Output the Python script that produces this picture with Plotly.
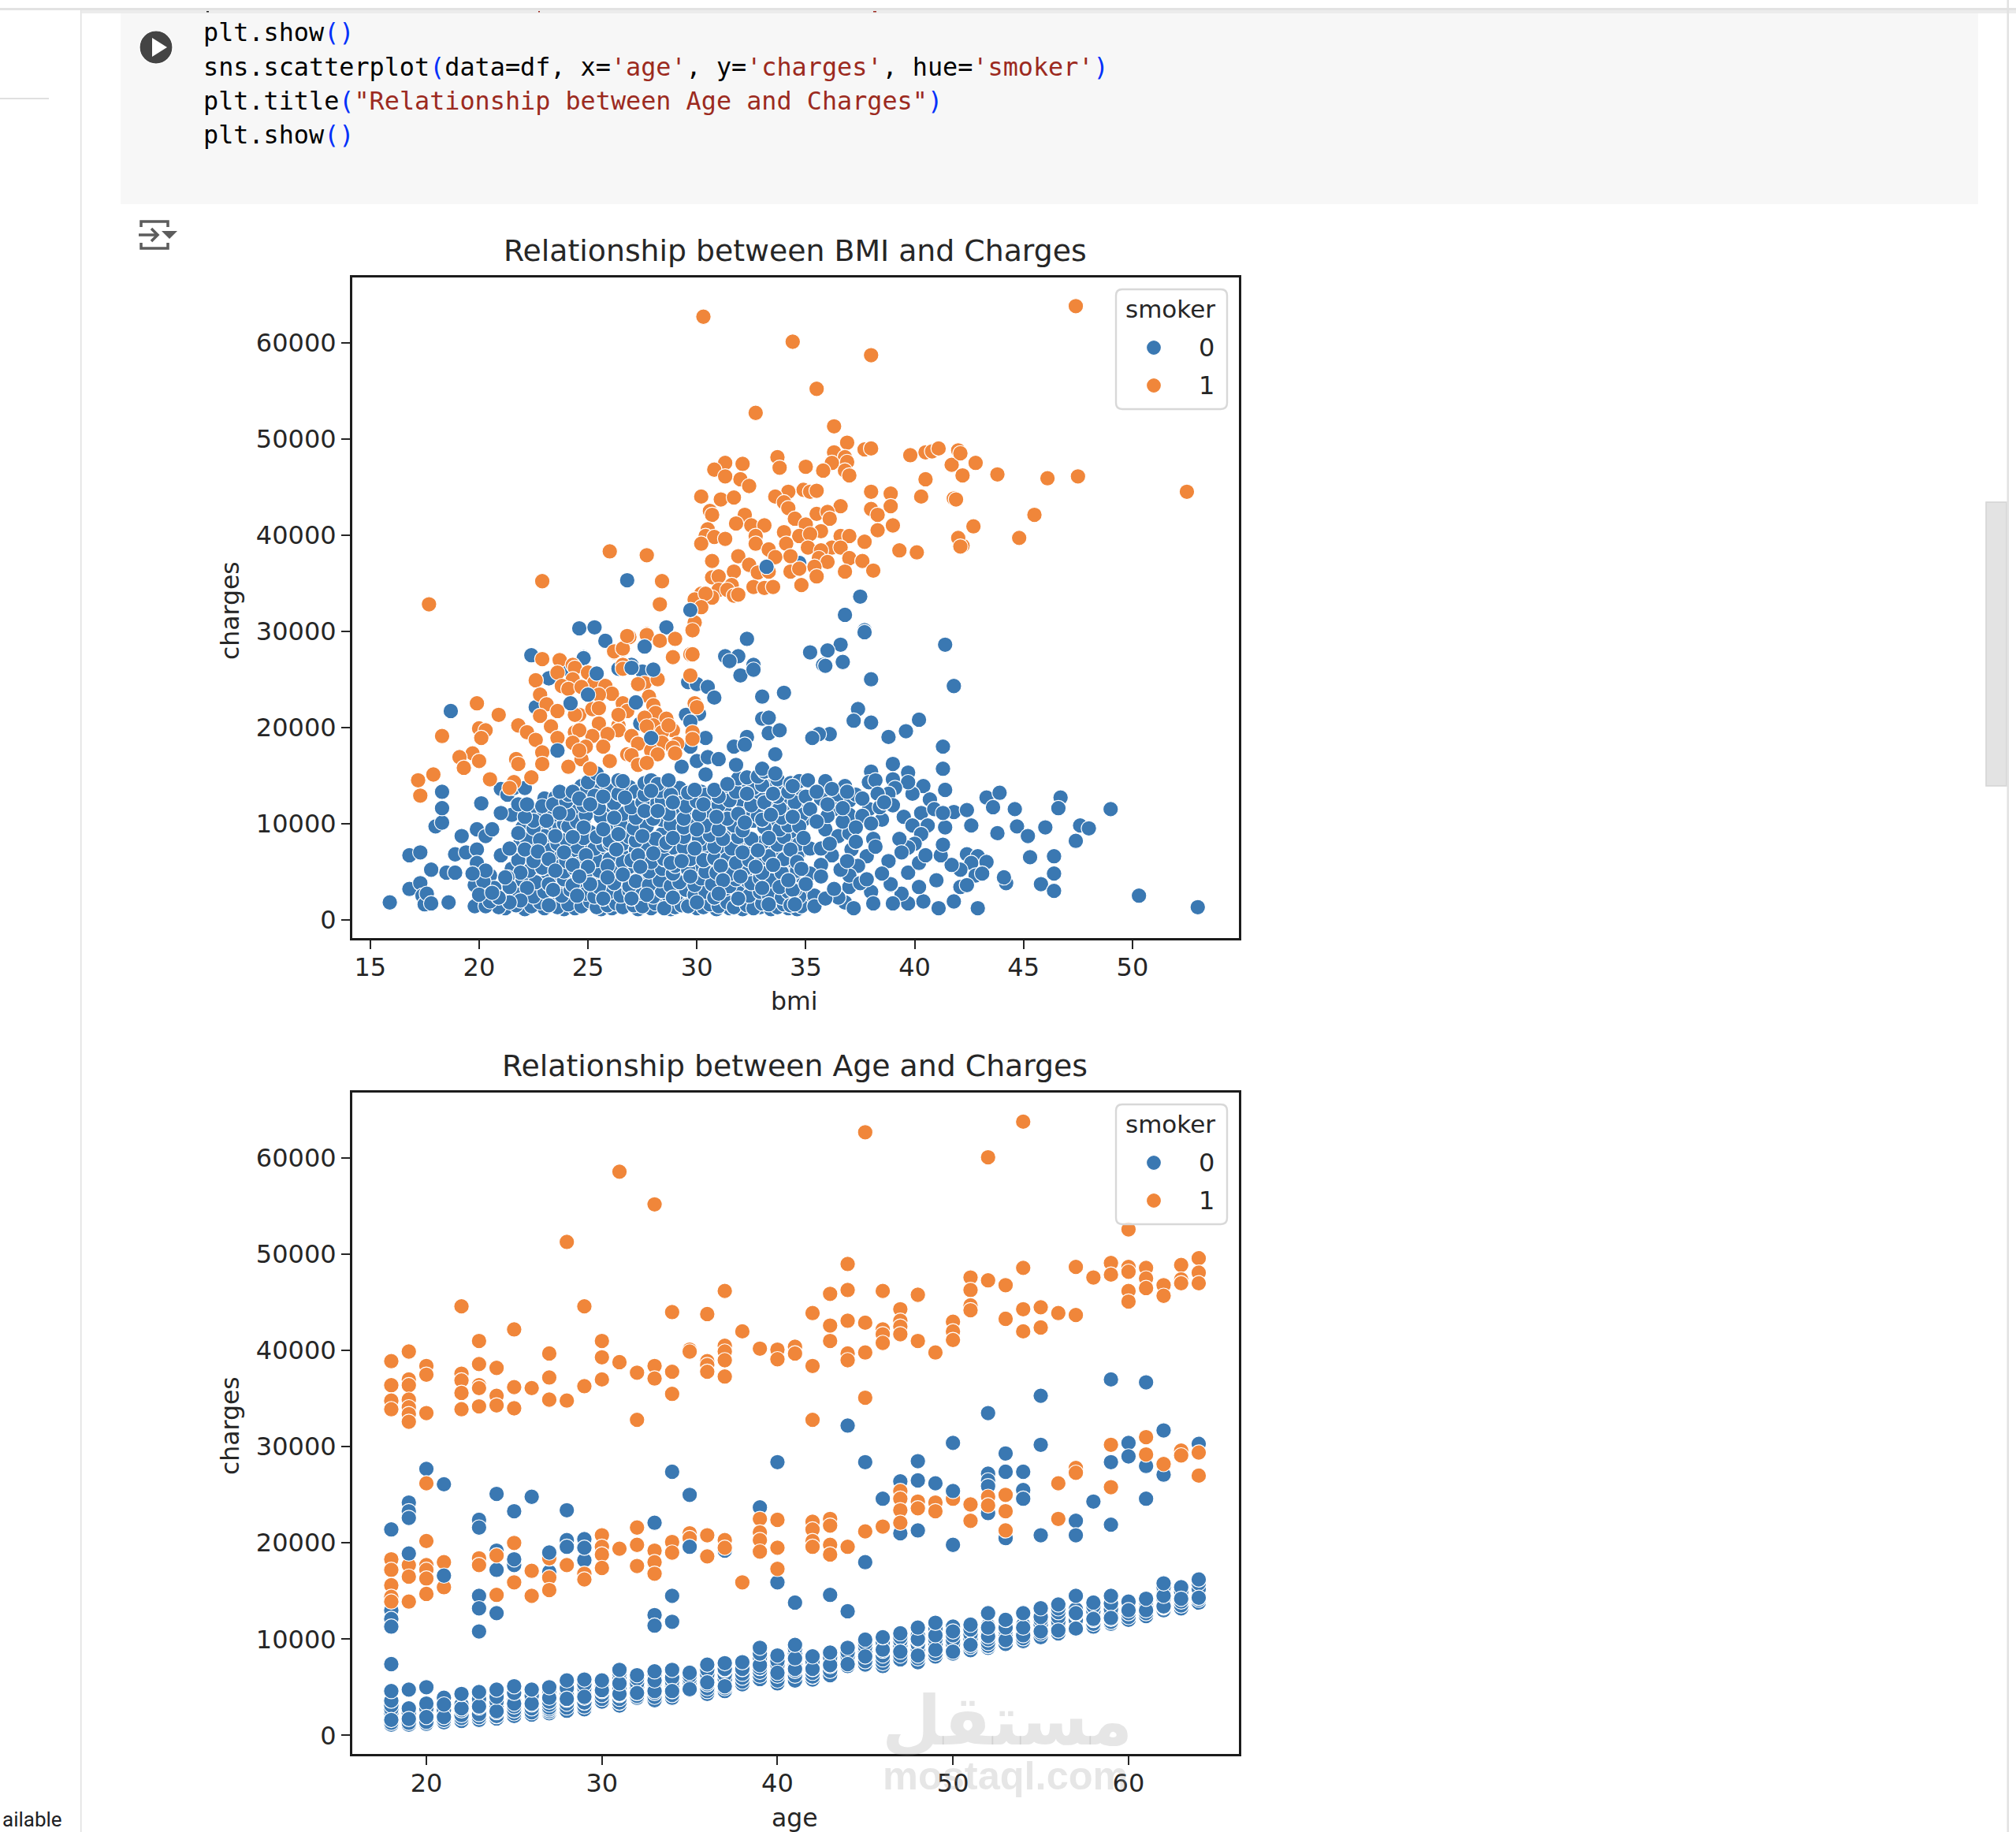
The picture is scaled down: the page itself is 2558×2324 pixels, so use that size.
import plotly.graph_objects as go

# ---- chart data: charges are in thousands, converted when the traces are built ----
bmi_ticks = [15, 20, 25, 30, 35, 40, 45, 50]
age_ticks = [20, 30, 40, 50, 60]
charge_ticks = [0, 10000, 20000, 30000, 40000, 50000, 60000]

# Smokers, (bmi, charges)
smoker_bmi_high = [
(30.3,62.7),(34.4,60.1),(38.0,58.7),(35.5,55.2),(32.7,52.7),(36.3,51.3),(36.9,49.6),(37.7,48.9),(38.0,49.0),
(36.3,48.6),(39.8,48.3),(40.5,48.6),(40.8,48.7),(41.1,49.0),(42.0,48.8),(41.7,47.3),(36.8,48.1),(36.9,47.6),
(36.2,47.5),(36.8,46.7),(37.0,46.2),(35.8,46.7),(35.0,47.1),(33.7,48.1),(33.8,47.0),(32.1,47.4),(31.3,47.5),
(30.8,46.8),(31.3,46.1),(32.0,45.8),(32.4,45.1),(40.5,45.8),(42.2,46.2),(34.9,44.7),(35.2,44.5),(35.5,44.6),
(34.2,44.5),(33.6,44.0),(38.0,44.5),(38.9,44.3),(30.2,44.0),(31.1,43.7),(31.7,43.9),(40.3,44.0),(41.8,43.8),
(34.0,43.4),(34.2,42.8),(38.9,43.0),(36.6,43.0),(38.0,42.7),(38.3,42.1),(30.6,42.5),(30.7,42.1),(32.2,42.1),
(35.5,42.2),(36.0,42.4),(36.1,41.7),(34.5,41.7),(35.0,41.1),(31.8,41.2),(32.5,41.0),(33.1,41.0),(39.0,41.0),
(30.5,40.6),(34.0,40.3),(35.7,40.4),(34.7,39.9),(35.2,40.1),(38.3,40.5),(30.4,39.9),(30.8,39.8),(31.3,39.6),
(32.7,39.9),(36.6,39.9),(37.0,39.9),(42.0,39.7),(42.2,38.9),(37.7,39.3),(30.2,39.1),(32.7,39.1),(34.1,39.1),
(35.1,38.7),(33.3,38.5),(36.2,38.7),(36.6,38.7),(35.7,38.4),(39.3,38.4),(40.1,38.2),(34.3,37.8),(33.6,37.7),
(31.9,37.8),(35.6,37.6),(37.0,37.6),(30.7,37.3),(36.0,37.2),(37.6,37.3),(32.4,36.9),(35.4,36.7),(31.7,36.2),
(32.8,36.1),(33.3,36.2),(34.3,36.2),(34.7,36.5),(36.8,36.2),(38.1,36.3),(30.7,35.6),(31.0,35.7),(35.5,35.7),
(34.8,34.8),(31.6,34.8),(32.6,34.6),(33.1,34.5),(33.5,34.6),(31.0,34.3),(31.4,34.3),(31.7,33.7),(31.9,33.8),
(30.2,33.9),(29.9,33.3),(30.7,33.5),(30.4,33.9),(30.2,32.5),(29.9,30.9),(29.8,30.1),(26.0,38.3),(27.7,37.9),
(22.9,35.2),(28.4,35.2),(17.7,32.8),(28.3,32.8),(47.4,63.8),(52.5,44.5),(47.5,46.1),(46.1,45.9),(45.5,42.1),
(44.8,39.7),(43.8,46.3),(42.8,47.5),(42.1,48.5),(41.9,43.7),(42.7,40.9),(42.0,39.7),(42.1,38.8),
]
smoker_bmi_low = [
(26.9,29.4),(27.7,29.7),(29.0,29.2),(28.3,29.0),(26.6,28.1),(26.2,27.8),(28.9,27.3),(29.7,27.6),(22.9,27.1),
(23.7,27.0),(24.3,26.5),(26.6,26.5),(19.9,22.5),(20.9,21.3),(18.3,19.1),(20.0,19.9),(20.3,19.7),(20.1,18.9),
(21.8,20.2),(22.2,19.5),(22.6,18.7),(23.3,20.1),(23.6,18.9),(22.9,17.4),(19.7,17.3),(19.1,16.9),(20.0,16.5),
(19.3,15.8),(21.7,16.7),(21.8,16.2),(22.9,16.2),(17.9,15.1),(17.2,14.5),(17.3,12.9),(20.5,14.6),(21.6,14.3),
(21.4,13.7),(22.4,14.8),(24.1,15.9),(24.7,16.7),(25.1,15.7),(26.0,16.5),(23.6,25.7),(24.4,26.2),(22.6,24.9),
(24.3,25.0),(25.0,25.7),(25.3,24.7),(23.8,24.3),(24.1,24.0),(24.7,24.2),(25.8,24.3),(26.1,23.5),(25.5,23.4),
(22.8,23.4),(23.1,22.4),(23.6,21.7),(22.8,21.2),(24.6,21.3),(25.2,21.9),(24.4,21.3),(25.5,22.0),(25.5,20.4),
(26.4,20.2),(26.4,19.7),(25.9,19.3),(25.2,19.1),(24.4,19.5),(24.6,19.7),(24.3,18.4),(24.9,18.0),(24.6,17.6),
(25.7,18.0),(26.6,22.5),(26.8,21.7),(26.4,21.3),(26.2,27.9),(26.6,28.2),(26.8,29.5),(27.7,29.6),(28.3,29.0),
(29.0,29.2),(29.8,27.6),(29.8,30.1),(26.6,26.1),(27.6,24.6),(27.3,24.5),(28.2,25.0),(29.7,25.4),(27.8,23.2),
(28.0,22.3),(29.9,22.5),(30.0,22.1),(28.1,21.5),(27.6,21.0),(28.6,20.9),(28.0,20.2),(27.7,20.1),(28.9,19.7),
(28.4,19.5),(28.7,20.2),(27.0,19.1),(29.8,19.5),(29.8,18.8),(27.3,18.3),(28.4,18.4),(29.1,18.3),(28.9,17.9),
(27.9,17.6),(29.0,17.3),(26.8,17.2),(27.0,17.1),(28.2,17.2),(27.3,16.1),(27.7,16.3),
]

# Non-smokers above the dense block and along its right-hand tail
nonsmoker_bmi_sparse = [
(34.7,37.1),(37.5,33.6),(36.8,31.7),(37.7,30.1),(28.6,30.4),(24.6,30.3),(25.3,30.4),(25.8,29.0),(27.6,28.4),
(32.3,29.2),(36.6,28.6),(36.0,28.0),(35.2,27.8),(41.4,28.6),(22.4,27.5),(24.8,27.3),(31.3,27.4),(31.9,27.4),
(35.8,26.5),(36.7,26.8),(32.6,26.5),(27.0,26.5),(24.8,27.2),(31.5,26.9),(32.0,25.4),(32.6,26.0),(23.2,25.1),
(24.0,26.1),(26.4,26.1),(27.5,25.8),(29.6,24.7),(30.0,24.5),(30.5,24.2),(30.8,23.1),(33.0,23.2),(34.0,23.6),
(22.6,22.1),(18.7,21.7),(29.5,21.3),(30.1,21.4),(29.7,20.6),(33.0,20.9),(33.3,21.0),(27.4,20.4),(33.3,19.4),
(33.8,19.7),(30.4,18.9),(29.7,18.0),(32.3,19.0),(31.7,18.0),(32.2,18.2),(33.6,17.2),(23.6,17.6),(30.0,16.5),
(30.5,16.9),(31.0,16.7),(31.8,16.1),(29.3,15.9),(33.0,15.7),(30.4,15.1),(33.6,15.2),(37.7,29.9),(35.9,26.4),
(38.0,25.0),(41.8,24.3),(37.4,21.9),(37.2,20.7),(38.0,20.5),(40.2,20.8),(39.6,19.6),(38.8,19.0),(36.1,19.3),
(35.6,19.3),(35.3,18.9),(41.3,18.0),(41.3,15.7),(39.0,16.2),(41.4,13.5),(39.7,15.3),(40.4,13.9),(39.9,13.1),
(40.7,12.5),(38.0,15.4),(37.9,14.3),(38.2,14.5),(39.0,14.6),(39.7,14.3),(39.1,13.7),(38.8,13.1),(39.0,11.9),
(38.3,13.1),(36.8,13.9),(35.9,14.4),(35.1,14.5),(37.0,12.4),(35.0,12.8),(35.7,12.6),(36.4,12.6),(37.3,13.0),
(37.9,11.5),(38.5,10.4),(36.3,11.5),(35.2,11.5),(37.0,10.9),(40.3,11.1),(39.5,10.7),(39.9,9.8),(40.6,9.8),
(41.4,9.6),(41.8,11.2),(42.4,11.4),(40.9,11.5),(41.3,11.1),(42.6,9.8),(43.3,12.7),(43.9,13.2),(43.6,11.7),
(44.6,11.5),(44.7,9.7),(43.8,9.0),(45.2,8.7),(46.0,9.6),(46.7,12.7),(46.6,11.6),(49.0,11.5),(47.6,9.8),
(48.0,9.5),(47.4,8.2),(45.3,6.5),(46.4,6.6),(46.4,4.8),(45.8,3.7),(46.4,3.0),(44.2,3.8),(44.1,4.4),(50.3,2.5),
(53.0,1.3),(42.4,6.8),(42.9,6.6),(42.6,5.9),(43.3,6.0),(42.1,5.2),(42.8,4.6),(43.1,4.8),(41.7,5.7),(42.1,3.4),
(42.4,3.6),(41.0,4.1),(41.8,1.9),(42.9,1.2),(41.1,1.2),(40.4,1.9),(39.7,1.7),(40.2,3.4),(39.4,2.7),(39.0,1.7),
(38.9,3.6),(39.7,4.9),(40.2,5.9),(40.5,6.7),(41.2,6.7),(41.3,7.8),(40.3,8.9),(40.0,7.9),(39.7,7.5),(39.3,8.4),
(39.4,7.0),(38.8,6.1),(37.8,6.6),(38.1,8.4),(37.1,7.3),(36.2,6.7),(35.7,5.7),(35.2,4.8),(35.7,4.5),(34.4,3.1),
(35.4,2.5),(35.4,1.4),(37.0,3.4),(36.8,1.8),(37.2,1.2),(38.0,2.9),(38.1,1.7),(38.9,3.7),(38.5,4.8),(37.4,5.6),
(35.9,9.4),(36.5,8.7),(37.0,9.0),(35.2,7.4),(35.7,7.4),(34.7,9.7),(34.4,10.7),(37.0,4.6),(37.5,3.8),(36.5,2.3),
(35.9,2.2),(34.5,1.6),(34.2,4.1),(37.6,10.8),(36.7,10.2),(38.0,10.0),(36.0,10.8),(37.3,9.6),(38.4,11.7),
(36.9,13.3),(36.2,13.6),(38.6,12.2),(36.7,11.6),(35.5,13.3),(37.6,12.6),(36.0,12.0),(35.5,10.2),(34.9,8.5),
(36.1,7.9),(37.3,8.1),(34.6,6.0),(36.6,5.2),(36.9,6.1),(35.0,3.7),(36.3,3.2),(37.8,4.2),(34.8,5.3),(38.2,7.6),
(15.9,1.8),(16.8,3.2),(16.8,6.7),(17.3,7.0),(17.3,3.8),(17.4,2.5),(17.5,1.6),(17.6,2.7),(17.8,1.7),(17.8,5.2),
(18.0,9.7),(18.3,10.1),(18.3,11.6),(18.3,13.3),(18.5,4.9),(18.6,1.8),(18.9,4.9),(18.9,6.8),(19.2,8.7),(19.4,7.0),
(19.8,3.6),(19.8,1.4),(19.9,9.4),(19.9,7.3),(19.9,5.9),(20.1,12.1),(20.3,8.7),(20.3,1.4),(20.5,4.6),(20.5,1.9),
(20.6,9.4),(20.7,3.3),(21.0,11.1),(21.0,6.7),(21.0,13.6),(21.2,4.4),(21.3,13.0),(21.4,7.4),(21.6,13.7),(22.1,13.7),
(21.8,12.0),(22.2,12.0),(20.2,4.0),(20.0,2.6),(20.9,2.3),(20.3,5.1),(19.7,4.8),(20.6,2.8),
]

# Dense block of non-smokers below about 15 thousand, back to front
nonsmoker_bmi_block_fill = [
(21.2,1.2),(22.1,1.1),(23.0,1.2),(23.9,1.1),(24.4,1.2),(25.6,1.1),(26.1,1.2),(27.3,1.1),(27.9,1.2),(28.8,1.1),
(29.0,1.3),(30.0,1.2),(30.9,1.1),(31.5,1.2),(32.1,1.1),(32.9,1.3),(33.4,1.1),(34.2,1.2),(34.6,1.1),
(21.6,2.4),(22.4,2.1),(23.0,2.2),(23.5,2.0),(24.1,2.1),(24.8,2.0),(25.2,2.2),(26.2,2.3),(26.7,2.1),(27.3,2.3),
(28.2,2.1),(28.6,2.2),(29.3,2.1),(29.7,2.2),(30.4,2.2),(30.7,2.0),(31.4,2.3),(32.2,2.0),(32.7,2.2),(33.1,2.1),
(33.6,2.3),(34.6,2.1),(35.1,2.0),
(21.8,3.3),(22.6,3.2),(23.1,3.5),(23.7,3.4),(24.5,3.3),(24.9,3.5),(25.7,3.1),(26.4,3.3),(26.8,3.2),(27.5,3.3),
(28.1,3.2),(28.6,3.3),(29.4,3.2),(29.8,3.2),(30.4,3.4),(31.1,3.3),(31.7,3.0),(32.2,3.4),(32.7,3.2),(33.4,3.4),
(34.2,3.6),(34.8,2.9),
(22.4,4.5),(22.9,4.6),(23.7,4.5),(24.1,4.7),(25.3,4.6),(25.7,4.8),(26.3,4.4),(27.0,4.6),(27.6,4.4),(28.1,4.6),
(28.5,4.5),(29.2,4.6),(30.1,4.7),(30.5,4.4),(31.0,4.6),(31.5,4.2),(32.4,4.5),(32.9,4.6),(33.4,4.4),(33.8,4.6),
(34.4,4.5),
(22.2,5.8),(23.0,5.9),(23.7,5.6),(24.8,5.9),(25.4,5.7),(26.1,5.6),(26.7,5.4),(27.1,5.8),(27.7,5.6),(28.2,5.9),
(28.7,5.6),(29.4,5.5),(30.0,5.7),(30.7,5.6),(31.5,5.7),(32.0,5.6),(33.0,5.9),(34.0,5.5),(34.5,5.9),
(22.3,6.7),(23.4,6.9),(24.4,6.8),(25.3,6.8),(25.8,6.9),(26.6,6.6),(27.7,6.6),(28.5,6.9),(29.0,6.9),(29.5,6.8),
(30.4,6.9),(30.9,7.0),(31.5,6.9),(32.5,6.6),(33.4,7.2),(33.9,7.0),(34.7,7.0),
(22.8,7.7),(23.9,7.5),(24.9,7.8),(26.6,7.9),(27.2,7.3),(28.1,7.9),(28.9,7.5),(29.6,7.9),(30.4,7.2),(31.2,7.2),
(32.1,7.9),(33.4,7.6),(34.3,8.0),
(21.9,8.1),(23.5,9.4),(24.6,9.2),(25.1,9.1),(26.0,9.0),(26.7,9.4),(27.4,9.1),(28.4,8.9),(29.3,9.1),(29.9,8.7),
(30.5,9.3),(31.3,9.1),(31.9,9.1),(33.8,8.9),(34.5,9.2),
(22.0,9.6),(23.0,9.7),(23.9,10.0),(24.8,10.3),(26.1,10.0),(26.9,10.3),(27.5,10.2),(28.4,10.4),(29.0,10.4),
(29.8,10.1),(30.5,10.4),(31.2,9.9),(32.0,9.9),(32.6,10.3),(33.4,9.9),(34.0,10.1),(34.9,10.4),
(22.4,11.2),(23.0,11.2),(24.4,11.5),(25.2,11.3),(26.1,11.3),(27.0,11.2),(28.9,11.4),(29.6,11.2),(30.5,11.3),
(31.3,11.2),(32.1,11.3),(32.6,11.0),(33.4,11.6),(34.1,11.2),(34.8,11.6),
(23.0,12.6),(23.5,12.7),(24.9,12.5),(26.1,12.7),(27.1,12.5),(27.9,12.4),(29.2,12.7),(29.9,12.8),(30.6,12.6),
(31.4,13.0),(32.0,12.5),(32.8,12.6),(33.2,11.8),(34.0,12.7),(34.8,12.8),
(24.7,13.9),(25.4,13.9),(25.9,13.7),(26.9,13.8),(27.2,13.3),(28.1,13.9),(29.2,13.7),(30.2,13.3),(30.9,13.0),
(31.3,13.7),(32.0,13.9),(32.9,13.2),(33.4,13.9),(34.0,13.9),
]
nonsmoker_bmi_block_back = [
(20.9,1.3),(21.7,1.5),(22.4,1.4),(22.8,1.8),(23.6,1.3),(24.1,1.6),(24.7,1.4),(25.1,1.9),(25.4,1.3),(25.9,1.5),
(26.3,1.7),(26.6,1.3),(27.1,1.5),(27.5,1.4),(28.1,1.7),(28.5,1.2),(29.3,1.5),(29.6,1.4),(30.3,1.3),(30.6,1.6),
(31.0,1.4),(31.4,1.8),(31.7,1.3),(32.3,1.5),(32.6,1.2),(33.0,1.7),(33.7,1.3),(34.0,1.6),(34.8,1.4),
(21.1,2.9),(21.8,2.6),(22.5,2.4),(23.0,2.9),(23.8,2.5),(24.2,3.1),(24.9,2.7),(25.3,2.4),(26.0,2.9),(26.5,2.5),
(26.9,3.0),(27.4,2.8),(28.0,2.4),(28.4,3.0),(29.1,2.7),(29.5,3.1),(29.9,2.6),(30.4,2.9),(30.8,2.3),(31.3,3.2),
(31.9,2.8),(32.4,2.5),(32.9,2.9),(33.3,2.6),(33.9,2.3),(34.2,2.9),(34.7,2.4),
(22.0,4.1),(22.6,3.9),(23.2,3.7),(23.9,4.2),(24.3,3.6),(25.0,4.2),(25.5,3.4),(26.2,3.8),(26.9,3.5),(27.2,4.0),
(27.8,3.6),(28.3,4.1),(28.8,3.5),(29.2,3.9),(29.9,3.6),(30.2,4.3),(30.7,3.7),(31.5,3.5),(31.8,4.2),(32.5,3.8),
(32.9,4.3),(33.4,4.1),(34.1,4.2),(34.9,3.8),
(21.5,5.3),(22.3,5.1),(22.9,5.4),(23.9,5.0),(24.4,5.3),(24.9,4.9),(25.5,5.1),(26.3,5.2),(26.9,5.5),(27.8,5.0),
(28.4,5.3),(28.9,4.8),(29.0,5.6),(29.6,5.2),(30.4,5.0),(30.9,4.9),(31.6,4.8),(32.2,5.3),(33.0,4.9),(33.9,4.9),
(34.6,5.1),
(21.8,6.2),(22.5,6.1),(24.0,6.1),(24.6,5.8),(25.4,6.2),(26.0,6.3),(26.6,6.0),(27.0,6.2),(27.9,6.0),(28.5,6.3),
(28.8,5.9),(29.7,6.3),(30.3,6.2),(30.8,6.4),(31.4,6.3),(31.8,5.9),(32.4,6.2),(33.0,6.4),(33.3,6.6),(34.0,6.3),
(34.6,6.6),
(22.4,7.7),(23.2,7.5),(23.6,7.9),(24.5,7.6),(25.3,7.4),(25.7,7.8),(26.0,7.9),(27.7,7.5),(28.5,7.7),(29.4,7.5),
(30.3,7.9),(30.8,7.6),(31.6,7.4),(32.5,7.8),(33.0,8.0),(33.7,7.8),(34.7,7.9),
(22.2,8.4),(23.0,8.7),(24.0,8.3),(24.8,8.5),(25.4,8.6),(26.0,8.2),(26.9,8.6),(27.2,8.2),(28.1,8.4),(28.6,8.0),
(29.4,8.6),(30.1,8.4),(30.6,8.8),(31.2,8.4),(31.9,8.6),(32.5,8.4),(34.0,8.6),
(22.5,9.5),(24.1,9.7),(24.5,10.2),(25.9,9.8),(26.5,9.9),(27.1,9.5),(27.7,9.7),(28.8,9.9),(29.4,9.6),(30.4,9.8),
(31.0,9.4),(31.7,9.8),(32.1,9.3),(33.1,9.6),(33.8,9.4),(34.2,9.8),
(22.5,10.3),(23.4,10.9),(24.1,11.0),(24.9,10.9),(25.6,10.7),(26.6,11.0),(27.2,10.6),(28.0,10.5),(28.7,11.0),
(29.4,10.5),(30.1,10.9),(31.4,10.5),(31.9,11.0),(32.8,10.8),(33.0,10.4),(33.9,10.6),(34.8,10.9),
(22.9,11.8),(23.4,12.0),(24.0,12.3),(24.8,11.9),(25.5,11.6),(26.2,12.1),(27.0,11.7),(27.5,12.2),(28.4,12.4),
(29.5,11.8),(30.0,12.3),(31.0,11.9),(31.5,12.4),(32.5,11.9),(33.1,12.2),(33.8,11.6),(34.5,12.2),
(24.1,13.0),(24.9,13.3),(25.3,12.9),(26.4,13.1),(27.6,13.0),(28.3,13.4),(28.8,13.0),(29.6,13.2),(30.4,13.0),
(31.0,12.8),(31.8,13.3),(32.6,13.7),(33.0,14.0),(33.7,12.8),(34.2,13.3),
(25.0,14.3),(25.4,15.2),(25.7,14.5),(26.4,14.5),(26.6,14.4),(27.6,14.2),(27.9,14.5),(28.2,14.1),(28.7,14.5),
(31.9,14.7),(32.3,14.8),(32.8,14.9),(33.1,15.4),(33.7,14.6),(34.3,14.2),(34.7,14.4),
]
nonsmoker_bmi_block_front = [
(23.7,13.3),(24.3,13.3),(24.6,12.6),(25.1,12.0),(25.7,12.8),(26.7,12.7),(27.6,11.3),(28.2,11.3),(28.9,12.2),
(27.9,13.4),(28.7,14.5),(29.9,13.5),(30.8,13.5),(30.3,12.0),(30.9,10.7),(30.0,9.4),(31.4,14.1),(32.3,13.1),
(33.5,13.1),(34.4,13.9),(33.4,10.9),(34.4,10.7),(32.2,10.1),(33.3,8.5),(28.9,8.5),(27.5,8.7),(26.4,8.9),
(25.7,9.4),(24.8,9.6),(24.3,8.6),(23.5,8.7),(22.8,8.3),(21.8,9.0),(23.1,10.3),(23.7,11.1),(26.2,10.6),
(21.5,10.9),(22.1,10.7),(21.4,7.4),(22.1,7.3),(22.7,7.1),(23.9,7.0),(24.9,6.7),(26.3,7.3),(27.3,6.7),(28.0,6.9),
(29.3,6.1),(29.9,7.4),(31.1,5.6),(32.1,7.0),(32.8,7.2),(34.3,7.3),(23.2,6.3),(24.3,5.7),(23.5,5.1),(25.0,5.5),
(25.9,5.6),(25.9,4.4),(26.6,4.7),(27.4,5.5),(29.7,4.5),(31.2,4.1),(32.7,5.5),(33.5,5.7),(32.0,4.5),(33.0,3.3),
(33.8,3.4),(34.5,3.1),(21.9,4.9),(21.3,4.4),(22.2,3.3),(21.4,3.4),(23.4,3.1),(25.1,3.7),(24.6,4.5),(31.0,2.7),
(27.7,2.6),(28.9,2.3),(30.0,1.8),(27.0,2.2),(25.7,2.2),(24.5,2.5),(23.2,1.5),(21.9,2.0),(21.4,1.8),(31.9,2.2),
(33.3,1.6),(34.3,1.5),
]
# Non-smokers that sit on top of the smoker points
nonsmoker_bmi_over = [
(29.7,32.2),(26.8,35.3),(33.2,36.7),(25.0,23.4),(24.2,22.5),(27.2,22.6),(27.6,28.4),(27.9,18.9),(25.4,25.6),
(27.0,26.2),(23.6,17.6),(28.0,26.0),
]

ages = list(range(18, 65))
# Lower band of non-smokers, one list per age from 18 to 64
nonsmoker_age_band = [
[1.1,1.3,2.0,2.3,2.7,3.1,3.6,1.6,4.6,7.4],
[1.1,1.3,1.9,2.3,2.8,1.7,4.75],
[1.2,1.4,2.0,2.4,2.8,3.3,1.9,5.0],
[1.35,1.6,2.2,2.6,3.4,1.9,3.9,3.2],
[1.5,1.8,2.1,2.6,3.2,2.8,4.3],
[1.6,1.9,2.2,2.9,3.3,3.8,3.0,4.5],
[1.75,2.0,2.4,3.0,3.5,4.2,2.5,4.0,4.75],
[2.0,2.3,2.6,3.0,3.6,4.3,4.7,3.3,4.4,5.1],
[2.15,2.4,2.8,3.2,3.6,4.1,3.3,4.75],
[2.3,2.5,2.7,2.9,3.2,3.5,4.1,4.7,3.9,5.0],
[2.55,2.9,3.3,3.7,4.2,4.9,3.8,5.7],
[2.7,3.0,3.4,3.9,4.3,4.9,5.3,4.0,5.8],
[3.5,3.8,4.2,4.6,5.1,4.7,5.7],
[3.1,3.4,3.8,4.2,5.0,5.5,6.1,6.5,4.3,5.4,6.8],
[3.9,4.1,4.4,5.0,5.4,5.9,4.4,6.25],
[3.65,4.0,4.4,4.9,5.4,5.8,6.3,4.6,5.7,6.65],
[3.9,4.2,4.6,5.1,5.6,6.0,4.6,6.8],
[4.75,5.0,5.3,5.6,5.9,6.2,4.8,6.5],
[4.3,4.6,4.9,5.3,5.8,6.3,6.8,5.5,7.35],
[4.6,4.9,5.3,5.8,6.3,6.8,7.1,5.1,6.9,7.5],
[5.3,5.6,6.0,6.4,6.9,7.3,6.9,7.6],
[5.85,6.2,6.6,7.0,7.6,8.1,8.7,7.3,8.5,9.1],
[5.4,5.7,6.2,6.7,7.3,7.7,6.5,8.3],
[5.7,6.2,6.7,7.3,7.9,8.5,9.0,6.9,8.0,9.4],
[5.8,6.1,6.5,6.9,7.3,7.7,6.9,8.2],
[6.25,6.7,7.2,7.6,8.1,7.3,8.6],
[7.2,7.5,7.9,8.2,8.6,7.4,9.1],
[7.35,7.7,8.2,8.7,9.2,9.6,8.2,9.95],
[7.2,7.5,7.9,8.3,8.8,9.2,9.7,8.9,10.2],
[7.9,8.3,8.8,9.3,9.8,10.2,8.7,10.6],
[7.6,8.0,8.4,8.9,9.4,9.9,10.4,8.3,10.0,11.2],
[8.2,8.5,9.0,9.5,10.0,10.6,11.1,8.9,10.4,11.7],
[8.5,9.0,9.5,9.9,10.4,11.0,11.3,10.8,8.7],
[8.85,9.2,9.6,10.0,10.5,11.0,9.4,11.5],
[9.1,9.3,9.6,10.0,10.7,11.4,10.3,11.2,12.7],
[9.5,9.9,10.4,10.9,11.4,11.7,9.9,11.2,12.0],
[9.8,10.1,10.5,10.9,11.5,10.4,11.2,12.7],
[10.2,10.6,11.0,11.5,12.0,12.5,13.0,10.8,12.3,13.2],
[10.6,11.0,11.4,11.8,12.3,12.8,13.2,13.6,10.9],
[11.0,11.4,12.0,12.6,13.1,11.1,12.7,14.5],
[11.3,11.6,12.0,12.4,12.9,13.4,12.1,13.8],
[11.6,11.8,12.1,12.6,13.1,13.7,12.2,14.5],
[12.0,12.3,12.7,13.1,13.5,13.9,13.0],
[12.4,12.7,13.1,13.4,13.9,13.0,14.2],
[13.0,13.3,13.7,14.2,14.8,15.4,13.4,14.5,15.8],
[13.2,13.5,13.9,14.4,14.9,15.4,14.2],
[13.8,14.1,14.6,15.2,15.8,14.3,16.2],
]

# Non-smokers in the middle band, (age, charges)
nonsmoker_age_mid = [
(18,21.4),(18,13.0),(18,12.1),(18,11.3),(19,24.2),(19,23.3),(19,22.6),(20,27.7),(21,26.1),(23,22.4),(23,21.6),
(23,14.5),(23,13.2),(23,10.8),(24,25.1),(24,17.2),(24,12.7),(24,19.2),(25,23.3),(25,17.7),(26,24.8),(27,17.0),
(28,23.4),(28,20.3),(29,20.4),(29,18.2),(33,22.1),(33,12.5),(33,11.4),(34,27.4),(34,14.5),(34,11.8),(35,25.0),
(37,19.2),(39,23.7),(40,28.4),(40,15.9),(41,13.8),(43,14.6),(44,12.9),(44,32.2),(45,28.4),(45,18.0),(46,24.6),
(47,26.4),(47,21.0),(48,28.5),(48,26.5),(48,21.3),(49,26.2),(50,30.4),(50,19.8),(52,33.5),(52,27.2),(52,26.5),
(52,25.9),(52,23.1),(53,29.3),(53,27.4),(53,20.5),(54,27.4),(54,25.5),(54,24.6),(55,35.3),(55,30.2),(55,20.8),
(57,22.3),(57,20.8),(58,24.3),(59,37.0),(59,28.4),(59,21.9),(60,30.4),(60,29.0),(61,36.7),(61,28.0),(61,24.6),
(62,31.7),(62,27.1),(64,30.3),
]
# Non-smokers drawn over the smoker points
nonsmoker_age_over = [
(19,18.9),(21,16.6),(25,18.3),(27,19.0),(28,19.6),(29,19.5),(35,19.6),(50,25.4),
]

# Smokers, (age, charges)
smoker_age_high = [
(18,38.9),(18,36.4),(18,34.8),(18,33.9),(19,39.9),(19,37.0),(19,36.4),(19,34.9),(19,34.1),(19,33.4),(19,32.6),
(20,38.4),(20,37.5),(20,33.5),(22,44.6),(22,37.6),(22,36.9),(22,35.6),(22,33.9),(23,41.0),(23,38.6),(23,36.4),
(23,36.1),(23,34.2),(24,38.2),(24,35.3),(24,34.3),(25,42.2),(25,36.2),(25,34.0),(26,36.1),(27,39.7),(27,37.2),
(27,34.9),(28,51.3),(28,34.8),(29,44.6),(29,36.3),(30,41.0),(30,39.3),(30,37.0),(31,58.6),(31,38.8),(32,37.7),
(32,32.8),(33,55.2),(33,38.4),(33,37.1),(34,44.0),(34,37.8),(34,35.5),(35,40.1),(35,39.9),(36,43.8),(36,38.9),
(36,38.5),(36,37.8),(37,46.2),(37,40.5),(37,39.9),(37,39.0),(37,37.3),(38,42.0),(39,40.2),(40,40.1),(40,39.1),
(41,40.4),(41,39.7),(42,43.9),(42,38.4),(42,32.8),(43,45.9),(43,42.6),(43,41.0),(44,49.0),(44,46.3),(44,43.1),
(44,39.7),(44,39.0),(45,62.7),(45,42.9),(45,39.8),(45,35.1),(46,46.2),(46,42.2),(46,41.7),(46,40.8),(47,44.3),
(47,43.1),(47,42.5),(47,41.7),(48,45.8),(48,41.0),(49,39.8),(50,43.0),(50,42.0),(50,41.1),(51,47.6),(51,46.3),
(51,44.7),(51,44.2),(52,60.1),(52,47.3),(53,46.8),(53,43.3),(54,63.8),(54,48.6),(54,44.3),(54,42.0),(55,44.5),
(55,42.4),(56,43.9),(57,48.7),(57,43.7),(58,47.6),(59,49.1),(59,47.9),(60,52.6),(60,48.7),(60,48.2),(60,46.2),
(60,45.1),(61,48.6),(61,47.5),(61,46.5),(62,46.8),(62,45.7),(63,48.9),(63,47.4),(63,47.0),(64,49.6),(64,48.1),
(64,47.0),
]
smoker_age_mid = [
(18,18.3),(18,17.2),(18,15.6),(18,14.4),(18,13.9),(19,17.7),(19,16.5),(19,13.9),(20,26.2),(20,20.2),(20,17.7),
(20,17.2),(20,16.3),(20,14.7),(21,18.0),(21,15.4),(23,18.4),(23,17.7),(24,18.7),(24,14.6),(25,20.0),(25,15.9),
(26,17.1),(26,14.5),(27,18.4),(27,16.4),(27,15.1),(28,17.7),(29,16.8),(29,16.2),(30,20.8),(30,19.6),(30,18.8),
(30,17.4),(31,19.4),(32,21.6),(32,19.8),(32,17.6),(33,19.2),(33,18.0),(33,16.8),(34,20.1),(34,19.0),(35,21.0),
(35,20.5),(36,20.8),(36,18.6),(37,20.3),(37,19.5),(38,15.9),(39,22.5),(39,21.1),(39,20.3),(39,19.1),(40,22.4),
(40,19.5),(40,17.3),(42,22.2),(42,21.4),(42,20.2),(42,19.6),(43,22.5),(43,21.8),(43,19.8),(43,18.8),(44,19.6),
(45,21.2),(46,21.7),(47,25.4),(47,24.6),(47,23.4),(47,22.1),(48,24.3),(48,23.6),(49,24.2),(49,23.3),(50,24.6),
(51,24.0),(51,22.3),(52,24.8),(52,23.9),(53,25.0),(53,23.3),(53,21.3),(56,26.2),(56,22.5),(57,27.8),(57,27.3),
(59,30.2),(59,25.8),(61,31.0),(61,29.2),(62,28.2),(63,29.6),(63,29.1),(64,29.4),(64,27.0),
]

# ---- page geometry, in page pixels ----
W, H = 2558, 2324
BLUE, ORANGE = "#3a78b2", "#f0863a"
TEXT = "#262626"
SANS = "DejaVu Sans"
TICK_SIZE = 32
TITLE_SIZE = 37.8


def xp(px):
    return px / W


def yp(py):
    return 1 - py / H


def box(x0, y0, x1, y1, fill, layer="below", line=None, width=0):
    return dict(type="rect", xref="paper", yref="paper", layer=layer,
                x0=xp(x0), x1=xp(x1), y0=yp(y0), y1=yp(y1), fillcolor=fill,
                line=dict(color=line or fill, width=width))


def path(points, color=None, fill=None, width=0, close=False, layer="above"):
    d = "M " + " L ".join(f"{xp(a):.5f},{yp(b):.5f}" for a, b in points)
    if close:
        d += " Z"
    return dict(type="path", xref="paper", yref="paper", layer=layer, path=d,
                fillcolor=fill or "rgba(0,0,0,0)",
                line=dict(color=color or "rgba(0,0,0,0)", width=width))


def label(x, y, text, size=TICK_SIZE, color=TEXT, font=SANS, xanchor="center", **kw):
    return dict(xref="paper", yref="paper", x=xp(x), y=yp(y), text=text, showarrow=False,
                xanchor=xanchor, yanchor="middle", borderpad=0,
                font=dict(family=font, size=size, color=color), **kw)


def rounded_box(x0, y0, x1, y1, r):
    d = (f"M {xp(x0 + r):.5f},{yp(y0):.5f} L {xp(x1 - r):.5f},{yp(y0):.5f} "
         f"Q {xp(x1):.5f},{yp(y0):.5f} {xp(x1):.5f},{yp(y0 + r):.5f} "
         f"L {xp(x1):.5f},{yp(y1 - r):.5f} Q {xp(x1):.5f},{yp(y1):.5f} {xp(x1 - r):.5f},{yp(y1):.5f} "
         f"L {xp(x0 + r):.5f},{yp(y1):.5f} Q {xp(x0):.5f},{yp(y1):.5f} {xp(x0):.5f},{yp(y1 - r):.5f} "
         f"L {xp(x0):.5f},{yp(y0 + r):.5f} Q {xp(x0):.5f},{yp(y0):.5f} {xp(x0 + r):.5f},{yp(y0):.5f} Z")
    return dict(type="path", xref="paper", yref="paper", layer="above", path=d,
                fillcolor="rgba(255,255,255,0.8)", line=dict(color="#d8d8d8", width=2.4))


def dot(cx, cy, r, color):
    return dict(type="circle", xref="paper", yref="paper", layer="above",
                x0=xp(cx - r), x1=xp(cx + r), y0=yp(cy + r), y1=yp(cy - r),
                fillcolor=color, line=dict(color="white", width=1.2))


def scatter(points, color, xaxis, yaxis):
    return go.Scatter(x=[p[0] for p in points], y=[p[1] * 1000 for p in points],
                      xaxis=xaxis, yaxis=yaxis, mode="markers", showlegend=False,
                      hoverinfo="skip",
                      marker=dict(size=19.5, color=color, line=dict(color="white", width=1.2)))


fig = go.Figure()

# BMI panel: non-smokers first so the smoker points sit over them
for pts, col in [(nonsmoker_bmi_block_fill, BLUE), (nonsmoker_bmi_block_back, BLUE),
                 (nonsmoker_bmi_block_front, BLUE), (nonsmoker_bmi_sparse, BLUE),
                 (smoker_bmi_low, ORANGE), (smoker_bmi_high, ORANGE), (nonsmoker_bmi_over, BLUE)]:
    fig.add_trace(scatter(pts, col, "x", "y"))

# Age panel
band_points = [(a, c) for a, row in zip(ages, nonsmoker_age_band) for c in row]
for pts, col in [(band_points, BLUE), (nonsmoker_age_mid, BLUE), (smoker_age_mid, ORANGE),
                 (smoker_age_high, ORANGE), (nonsmoker_age_over, BLUE)]:
    fig.add_trace(scatter(pts, col, "x2", "y2"))

axis_style = dict(showgrid=False, zeroline=False, showline=True, mirror=True, linecolor="#1c1c1c",
                  linewidth=2.6, ticks="outside", ticklen=11, tickwidth=2.4, tickcolor="#262626",
                  tickfont=dict(family=SANS, size=TICK_SIZE, color=TEXT), automargin=False)

# The axis frame is drawn just outside these domains
PANEL_X = [xp(446.8), xp(1572)]

# Notebook furniture around the two figures
GREY_ICON = "#5c5c5c"
shapes = [
    box(102, 12, 103.5, H, "#e0e0e0"),
    box(0, 124, 62, 126, "#e0e0e0"),
    box(153, 14, 2510, 259, "#f7f7f7"),
    box(0, 10, W, 13, "#e2e2e2"),
    box(103, 13, W, 17, "#ececec"),
    box(2520, 637, 2546, 997, "#e3e3e3", line="#d4d4d4", width=1.5),
    box(2546.5, 0, 2549, H, "#e2e2e2"),
    dot(198, 60, 21, "#444444"),
    path([(193, 48), (193, 72), (212, 60)], fill="white", close=True),
    path([(179, 288), (179, 281), (213, 281), (213, 288)], color=GREY_ICON, width=3.5),
    path([(179, 308), (179, 315), (213, 315), (213, 308)], color=GREY_ICON, width=3.5),
    path([(176, 298), (199, 298)], color=GREY_ICON, width=3.5),
    path([(192, 290), (200, 298), (192, 306)], color=GREY_ICON, width=3.5),
    path([(205, 293), (225, 293), (215, 303)], fill=GREY_ICON, close=True),
    box(262, 14, 265, 15.5, "#222222"),
    box(683, 14, 685, 15.5, "#9c2a20"),
    box(1108, 14, 1112, 15.5, "#9c2a20"),
]

BLUE_CODE, RED_CODE = "#0431fa", "#9c2a20"


def blue(s):
    return f'<span style="color:{BLUE_CODE}">{s}</span>'


def red(s):
    return f'<span style="color:{RED_CODE}">{s}</span>'


code_lines = [
    "plt.show" + blue("()"),
    "sns.scatterplot" + blue("(") + "data=df, x=" + red("'age'") + ", y=" + red("'charges'")
    + ", hue=" + red("'smoker'") + blue(")"),
    "plt.title" + blue("(") + red('"Relationship between Age and Charges"') + blue(")"),
    "plt.show" + blue("()"),
]
code_y = [41, 84, 127, 171]

annotations = [label(257, y, t, size=31.8, color="#000000", font="DejaVu Sans Mono", xanchor="left")
               for t, y in zip(code_lines, code_y)]
annotations += [
    label(1009, 318, "Relationship between BMI and Charges", size=TITLE_SIZE),
    label(1009, 1352, "Relationship between Age and Charges", size=TITLE_SIZE),
    label(1007, 1270, "bmi", size=31.5),
    label(1009, 2306, "age", size=31.5),
    label(292, 775, "charges", size=31.5, textangle=-90),
    label(292, 1809, "charges", size=31.5, textangle=-90),
    label(80, 2308, "ailable", size=26, color="#202124", font="Roboto", xanchor="right"),
]

# Legend boxes, one per panel
for dy in (0, 1034):
    shapes += [rounded_box(1416, 367 + dy, 1557, 519 + dy, 8),
               dot(1464, 441 + dy, 9.5, BLUE), dot(1464, 489 + dy, 9.5, ORANGE)]
    annotations += [label(1485, 392 + dy, "smoker", size=31),
                    label(1542, 441 + dy, "0", xanchor="right"),
                    label(1542, 489 + dy, "1", xanchor="right")]

# Site watermark across the lower panel
annotations += [
    label(1278, 2183, "<b>مستقل</b>", size=87, color="rgba(150,150,150,0.24)", font="DejaVu Sans"),
    label(1275, 2252, "<b>mostaql.com</b>", size=50.5, color="rgba(150,150,150,0.24)", font="Liberation Sans"),
]

fig.update_layout(
    width=W, height=H, autosize=False, margin=dict(l=0, r=0, t=0, b=0, pad=0),
    paper_bgcolor="white", plot_bgcolor="white", showlegend=False,
    xaxis=dict(domain=PANEL_X, range=[14.17, 54.89], tickvals=bmi_ticks, anchor="y",
               ticklabelstandoff=-5, **axis_style),
    yaxis=dict(domain=[yp(1190.4), yp(352)], range=[-1943, 66779], tickvals=charge_ticks,
               tickformat="d", anchor="x", **axis_style),
    xaxis2=dict(domain=PANEL_X, range=[15.77, 66.29], tickvals=age_ticks, anchor="y2",
                ticklabelstandoff=-5, **axis_style),
    yaxis2=dict(domain=[yp(2225.4), yp(1386.3)], range=[-1975, 66800], tickvals=charge_ticks,
                tickformat="d", anchor="x2", **axis_style),
    shapes=shapes, annotations=annotations,
)

fig.write_html("out.html", config=dict(displayModeBar=False))
